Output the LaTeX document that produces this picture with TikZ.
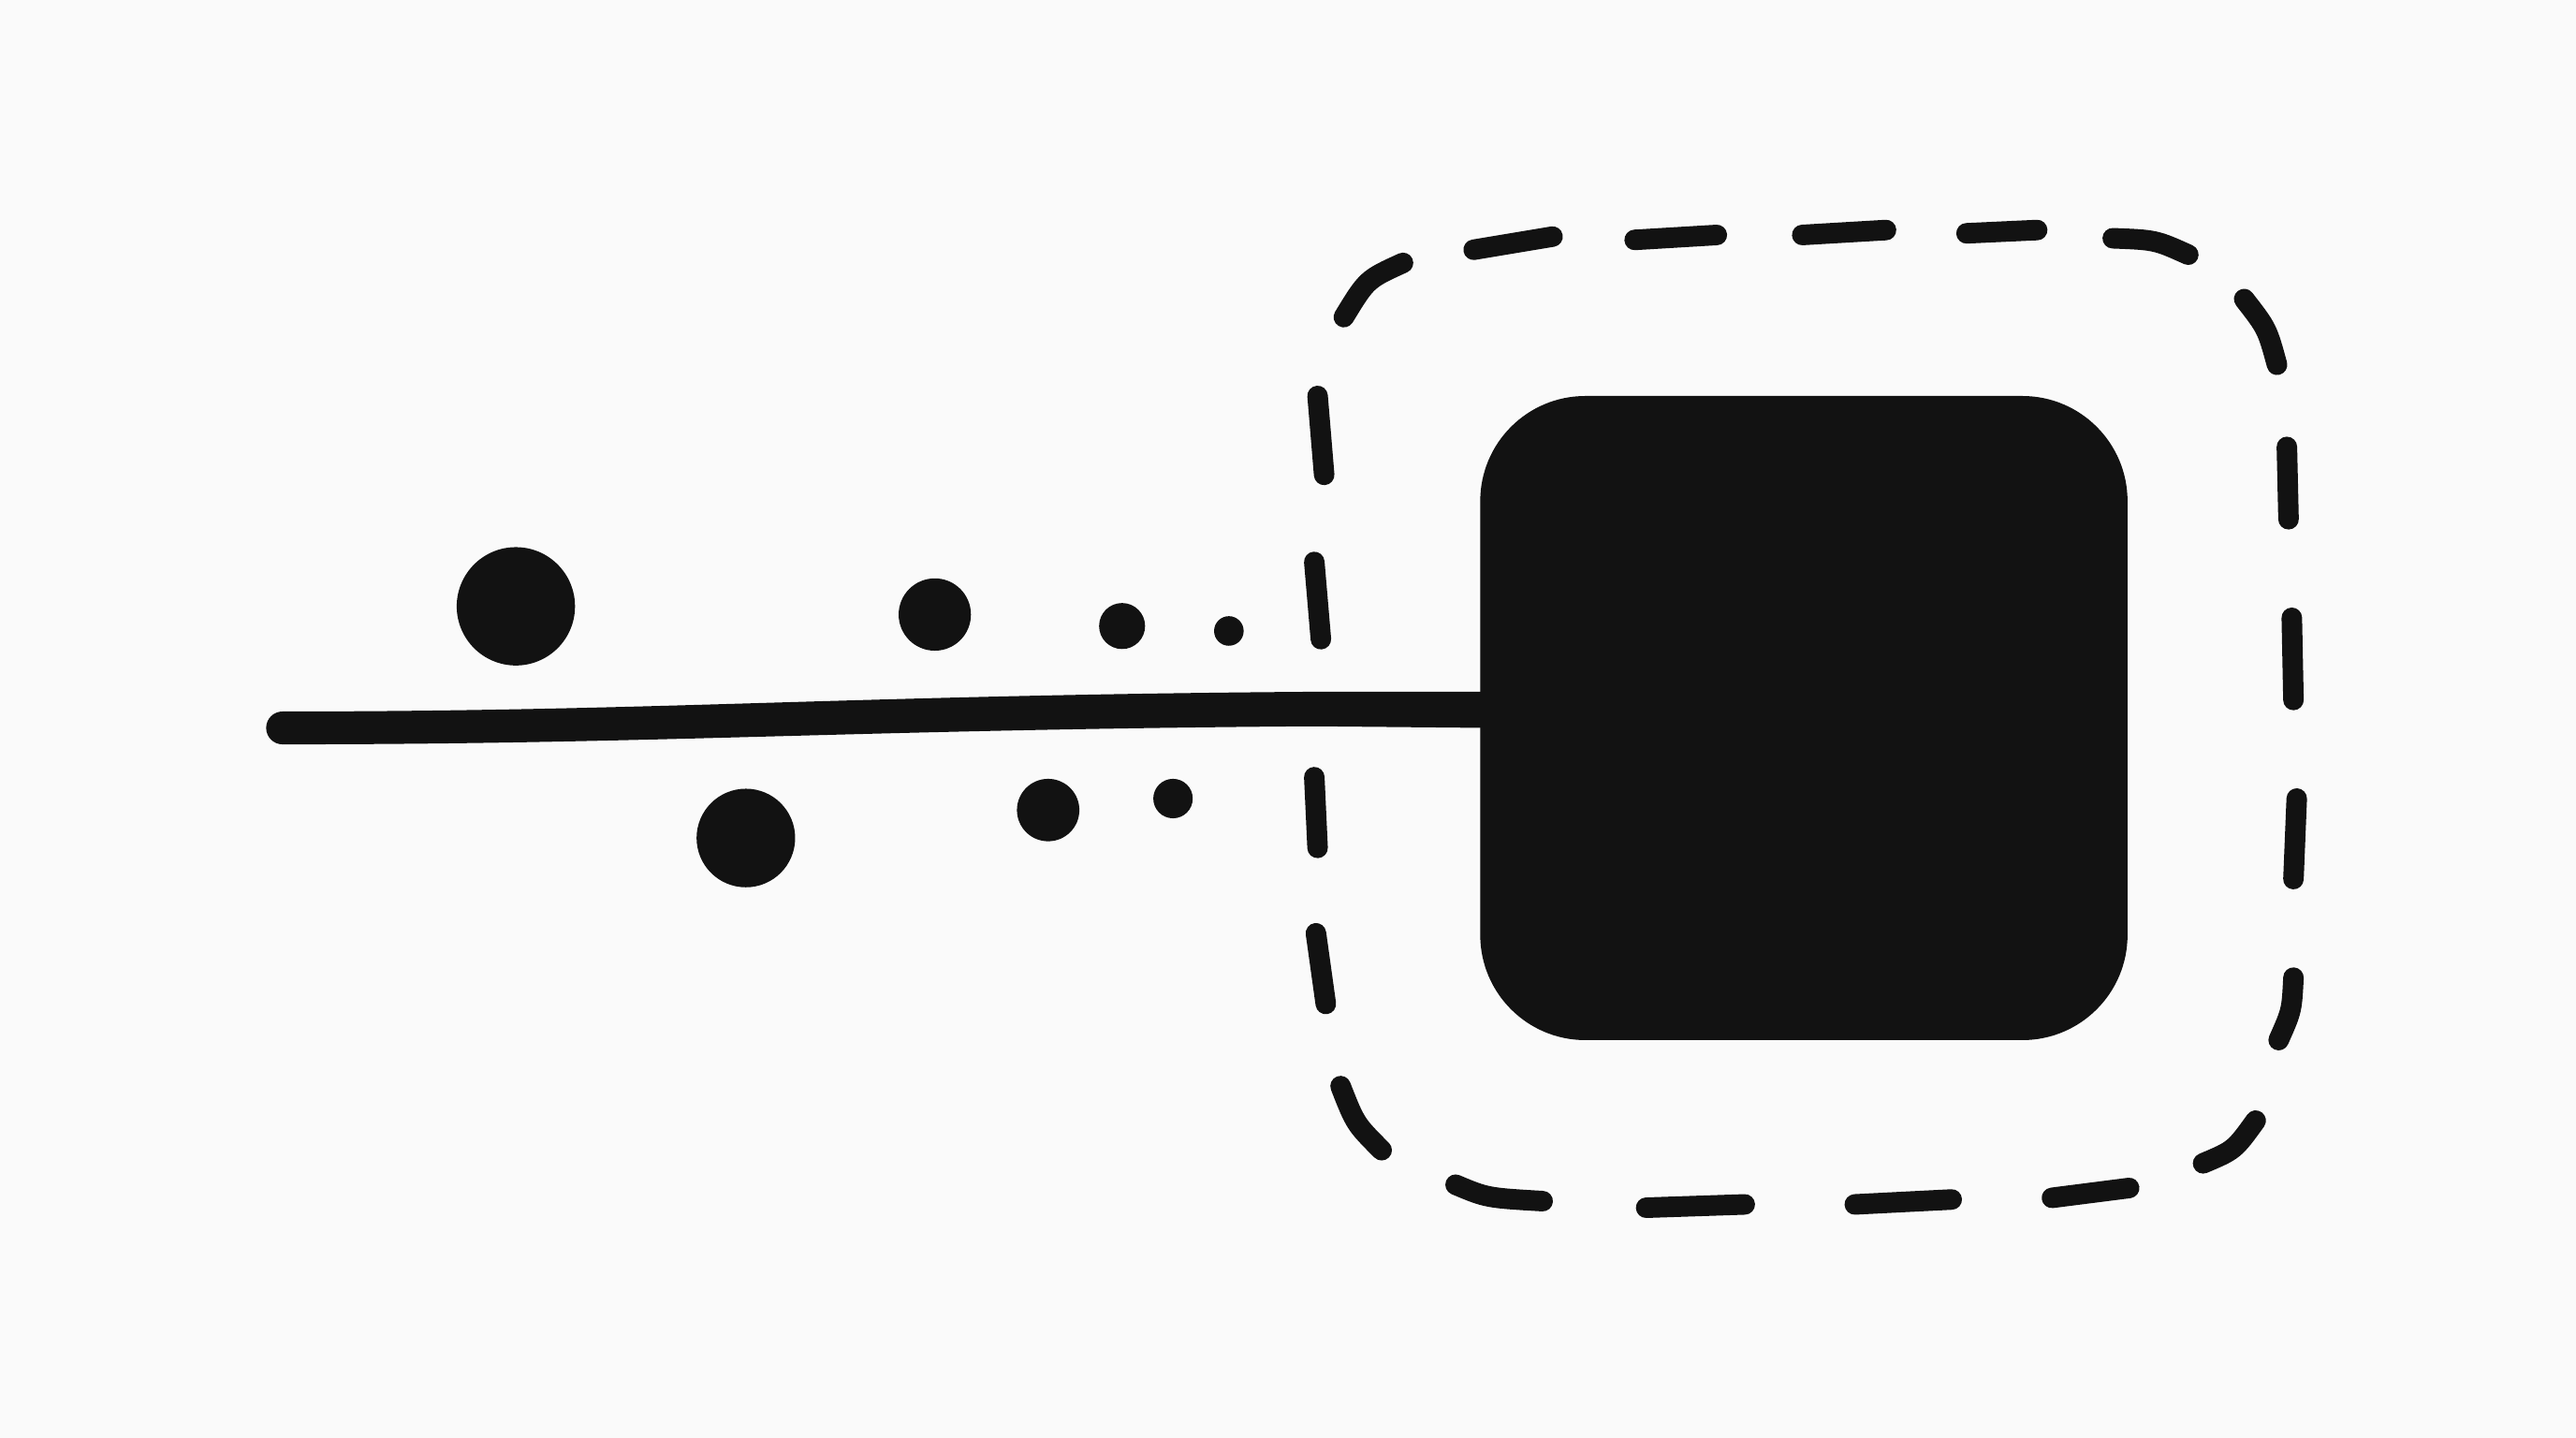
\documentclass[tikz,border=0pt]{standalone}
\definecolor{ink}{HTML}{121212}
\definecolor{paper}{HTML}{FAFAFA}
\tikzset{
  dot/.style={circle, fill=ink, inner sep=0pt, minimum size=#1},
  bigbox/.style={rectangle, fill=ink, inner sep=0pt, rounded corners=64pt},
  dashseg/.style={draw=ink, line width=12.5pt, line cap=round, line join=round},
  inkfill/.style={fill=ink}
}
\begin{document}
\begin{tikzpicture}[x=1pt,y=-1pt]
\fill[paper] (0,0) rectangle (1568,875);
\useasboundingbox (0,0) rectangle (1568,875);
% dashed frame, dash by dash
% top
\draw[dashseg] (897,152) -- (945,144);
\draw[dashseg] (995,146) -- (1045,143);
\draw[dashseg] (1097,143) -- (1148,140);
\draw[dashseg] (1197,142) -- (1240,140);
\draw[dashseg] (1286,145) .. controls (1312,146) .. (1332,155);
% top right corner
\draw[dashseg] (1366,182) .. controls (1380,200) .. (1386,222);
% right
\draw[dashseg] (1392,272) -- (1393,316);
\draw[dashseg] (1395,376) -- (1396,426);
\draw[dashseg] (1398,486) -- (1396,535);
\draw[dashseg] (1396,595) .. controls (1395,615) .. (1387,633);
% bottom right corner
\draw[dashseg] (1373,682) .. controls (1360,700) .. (1341,708);
% bottom
\draw[dashseg] (1296,723) -- (1249,729);
\draw[dashseg] (1188,730) -- (1129,733);
\draw[dashseg] (1062,733) -- (1002,735);
\draw[dashseg] (939,731) .. controls (905,729) .. (886,721);
% bottom left corner
\draw[dashseg] (841,700) .. controls (825,684) .. (816,661);
% left
\draw[dashseg] (807,611) -- (801,568);
\draw[dashseg] (802,516) -- (800,473);
\draw[dashseg] (804,389) -- (800,342);
\draw[dashseg] (806,289) -- (802,241);
% top left corner
\draw[dashseg] (818,193) .. controls (832,170) .. (854,160);
% black box
\node[bigbox, minimum width=394pt, minimum height=392pt] (box) at (1098,437) {};
% main stem as filled shape
\coordinate (start) at (172,443);
\fill[inkfill] (172,433) .. controls (400,433) and (520,423) .. (800,421) -- (905,421)
  -- (905,443) -- (800,442) .. controls (520,444) and (400,453) .. (172,453)
  arc[start angle=270, end angle=90, radius=10pt] -- cycle;
% dots
\node[dot=72pt] (d1) at (314,369) {};
\node[dot=60pt] (d2) at (454,510) {};
\node[dot=44pt] (d3) at (569,374) {};
\node[dot=38pt] (d4) at (638,493) {};
\node[dot=28pt] (d5) at (683,381) {};
\node[dot=24pt] (d6) at (714,486) {};
\node[dot=18pt] (d7) at (748,384) {};
\end{tikzpicture}
\end{document}
